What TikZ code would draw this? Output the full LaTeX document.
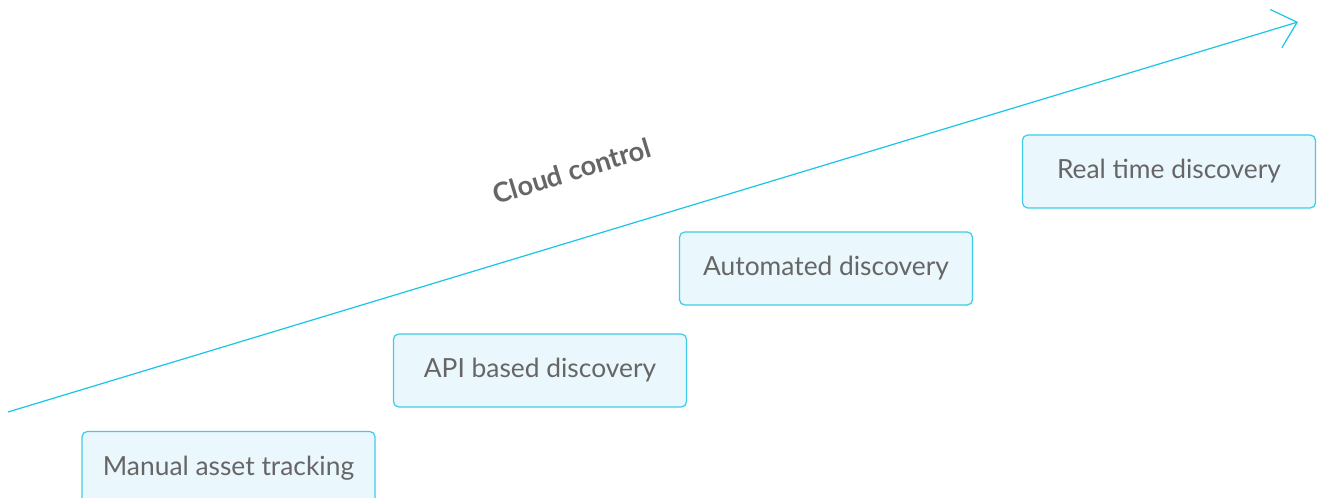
\documentclass[tikz,border=0pt]{standalone}
\usepackage{fontspec}
\setmainfont{Lato}
\usepackage{xcolor}
\usepackage{tikz}
\usetikzlibrary{arrows.meta,positioning}
\definecolor{ctrlcyan}{HTML}{1CC6E6}
\definecolor{stagefill}{HTML}{EAF7FD}
\definecolor{stageedge}{HTML}{3DCDE6}
\definecolor{txtgray}{HTML}{666666}

\begin{document}
\begin{tikzpicture}[
  flow/.style={-{Straight Barb[length=4.4mm, width=8mm]}, line width=0.7pt, draw=ctrlcyan},
  stage/.style={draw=stageedge, line width=0.7pt, rounded corners=3pt, fill=stagefill,
                text=txtgray, font=\fontsize{15}{18}\selectfont, align=center,
                minimum width=5.86cm, minimum height=1.46cm, inner sep=0pt},
  lane/.style={text=txtgray, font=\fontsize{15.5}{18}\selectfont\bfseries}
]
\useasboundingbox (0,0) rectangle (26.34,9.96);

%% ---- the rising control line ------------------------------------------------
\coordinate (start) at (0.16,1.72);
\coordinate (tip) at (25.96,9.52);
\draw[flow] (start) -- (tip);
\node[lane, rotate=17] (ctrl) at (11.44,6.54) {Cloud control};

%% ---- stages, one step up each -------------------------------------------------
\node[stage] (manual)   at (4.57,0.60)  {Manual asset tracking};
\node[stage] (api)      at (10.80,2.55) {API based discovery};
\node[stage] (auto)     at (16.52,4.59) {Automated discovery};
\node[stage] (realtime) at (23.38,6.53) {Real time discovery};

\end{tikzpicture}
\end{document}
